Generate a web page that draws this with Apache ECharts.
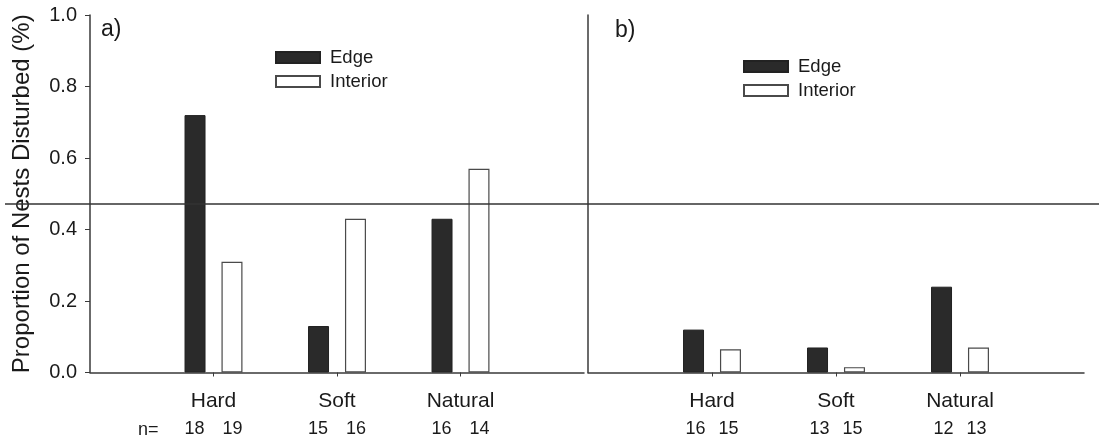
<!DOCTYPE html>
<html><head><meta charset="utf-8">
<script src="https://cdn.jsdelivr.net/npm/echarts@6/dist/echarts.min.js"></script>
<style>html,body{margin:0;padding:0;background:#fff}#c{width:1099px;height:445px}</style>
</head><body><div id="c"></div>
<script>
// ---- data ----
const categories = ['Hard', 'Soft', 'Natural'];
const edgeA = [0.72, 0.13, 0.43];
const interiorA = [0.31, 0.43, 0.57];
const edgeB = [0.12, 0.07, 0.24];
const interiorB = [0.065, 0.015, 0.07];
const nEdgeA = [18, 15, 16];
const nInteriorA = [19, 16, 14];
const nEdgeB = [16, 13, 12];
const nInteriorB = [15, 15, 13];
const yTicks = [0, 0.2, 0.4, 0.6, 0.8, 1.0];
const refLineValue = 0.471;
const panelLabels = ['a)', 'b)'];
const seriesNames = ['Edge', 'Interior'];

// ---- style ----
const FONT = "'Liberation Sans', Arial, Helvetica, sans-serif";
const INK = '#1a1a1a';
const AXIS = '#3a3a3a';
const EDGE_FILL = '#2a2a2a';

const padCats = ['', ...categories, ''];
const pad = arr => ['-', ...arr, '-'];

function xAxisFor(gridIndex, nE, nI) {
  return {
    type: 'category', gridIndex, data: padCats, boundaryGap: false,
    axisLine: { lineStyle: { color: AXIS, width: 1.5 } },
    axisTick: { show: true, length: 4, interval: (i) => i >= 1 && i <= 3, lineStyle: { color: AXIS } },
    axisLabel: {
      interval: 0, margin: 17, color: INK, fontFamily: FONT,
      formatter: (v, idx) => {
        if (!v) return '';
        const i = padCats.indexOf(v) - 1;
        return '{c|' + v + '}\n{n|' + nE[i] + '}{n|' + nI[i] + '}';
      },
      rich: {
        c: { fontSize: 21, lineHeight: 24, fontFamily: FONT, color: INK },
        n: { fontSize: 18, lineHeight: 32, width: gridIndex === 0 ? 38 : 33, align: 'center', fontFamily: FONT, color: INK }
      }
    },
    splitLine: { show: false }
  };
}

const chart = echarts.init(document.getElementById('c'), null, { renderer: 'canvas' });
const option = {
  backgroundColor: '#fff',
  animation: false,
  textStyle: { fontFamily: FONT },
  title: [
    { text: panelLabels[0], left: 96, top: 13, textStyle: { fontSize: 23, fontWeight: 'normal', color: INK, fontFamily: FONT } },
    { text: panelLabels[1], left: 610, top: 14, textStyle: { fontSize: 23, fontWeight: 'normal', color: INK, fontFamily: FONT } },
    { text: 'n=', left: 133, top: 416, textStyle: { fontSize: 18, fontWeight: 'normal', color: INK, fontFamily: FONT } }
  ],
  legend: [
    { data: seriesNames, orient: 'vertical', left: 270, top: 43, icon: 'rect', itemWidth: 44, itemHeight: 11, itemGap: 5,
      textStyle: { fontSize: 18.5, color: INK, fontFamily: FONT, padding: [0, 0, 0, 5] } },
    { data: seriesNames, orient: 'vertical', left: 738, top: 52, icon: 'rect', itemWidth: 44, itemHeight: 11, itemGap: 5,
      textStyle: { fontSize: 18.5, color: INK, fontFamily: FONT, padding: [0, 0, 0, 5] } }
  ],
  grid: [
    { left: 90, width: 494, top: 15, bottom: 72.5 },
    { left: 588, width: 496, top: 15, bottom: 72.5 }
  ],
  xAxis: [xAxisFor(0, nEdgeA, nInteriorA), xAxisFor(1, nEdgeB, nInteriorB)],
  yAxis: [
    { type: 'value', gridIndex: 0, min: yTicks[0], max: yTicks[yTicks.length - 1], interval: 0.2,
      name: 'Proportion of Nests Disturbed (%)', nameLocation: 'middle', nameGap: 56,
      nameTextStyle: { fontSize: 24, color: INK, fontFamily: FONT },
      axisLine: { show: true, lineStyle: { color: AXIS, width: 1.5 } },
      axisTick: { show: true, length: 5, lineStyle: { color: AXIS } },
      axisLabel: { fontSize: 20, color: INK, margin: 13, fontFamily: FONT, formatter: v => v.toFixed(1) },
      splitLine: { show: false } },
    { type: 'value', gridIndex: 1, min: yTicks[0], max: yTicks[yTicks.length - 1], interval: 0.2,
      axisLine: { show: true, lineStyle: { color: AXIS, width: 1.5 } },
      axisTick: { show: false }, axisLabel: { show: false }, splitLine: { show: false } }
  ],
  series: [
    { name: seriesNames[0], type: 'bar', xAxisIndex: 0, yAxisIndex: 0, data: pad(edgeA), barWidth: 21, barGap: '76%',
      itemStyle: { color: EDGE_FILL, borderColor: '#222', borderWidth: 1 } },
    { name: seriesNames[1], type: 'bar', xAxisIndex: 0, yAxisIndex: 0, data: pad(interiorA), barWidth: 21, barGap: '76%',
      itemStyle: { color: '#fff', borderColor: '#4a4a4a', borderWidth: 1.2 } },
    { name: seriesNames[0], type: 'bar', xAxisIndex: 1, yAxisIndex: 1, data: pad(edgeB), barWidth: 21, barGap: '76%',
      itemStyle: { color: EDGE_FILL, borderColor: '#222', borderWidth: 1 } },
    { name: seriesNames[1], type: 'bar', xAxisIndex: 1, yAxisIndex: 1, data: pad(interiorB), barWidth: 21, barGap: '76%',
      itemStyle: { color: '#fff', borderColor: '#4a4a4a', borderWidth: 1.2 } }
  ]
};
chart.setOption(option);
const yRef = chart.convertToPixel({ yAxisIndex: 0 }, refLineValue);
chart.setOption({
  graphic: [{ type: 'line', z: 100, shape: { x1: 5, y1: yRef, x2: 1099, y2: yRef }, style: { stroke: '#333', lineWidth: 1.5 } }]
});
</script></body></html>
